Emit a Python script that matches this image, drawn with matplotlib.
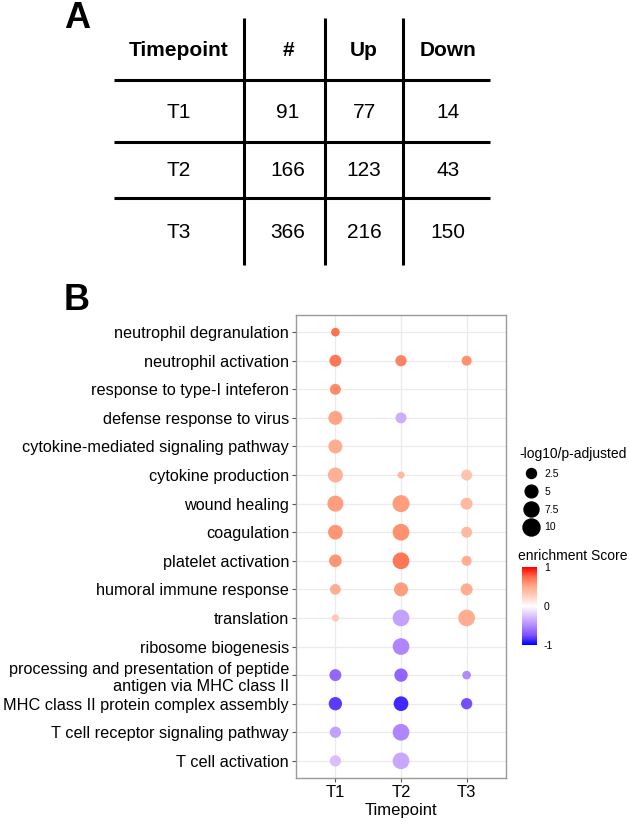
import numpy as np
import matplotlib
matplotlib.use('Agg')
import matplotlib.pyplot as plt
from matplotlib.colors import LinearSegmentedColormap, Normalize
from matplotlib.cm import ScalarMappable
from matplotlib.lines import Line2D

plt.rcParams['font.family'] = ['Liberation Sans', 'DejaVu Sans']

# ---- panel A data
table_header = ['Timepoint', '#', 'Up', 'Down']
table_timepoints = ['T1', 'T2', 'T3']
table_total = [91, 166, 366]
table_up = [77, 123, 216]
table_down = [14, 43, 150]

# ---- panel B data
terms = [
    'neutrophil degranulation',
    'neutrophil activation',
    'response to type-I inteferon',
    'defense response to virus',
    'cytokine-mediated signaling pathway',
    'cytokine production',
    'wound healing',
    'coagulation',
    'platelet activation',
    'humoral immune response',
    'translation',
    'ribosome biogenesis',
    'processing and presentation of peptide\nantigen via MHC class II',
    'MHC class II protein complex assembly',
    'T cell receptor signaling pathway',
    'T cell activation',
]
timepoints = ['T1', 'T2', 'T3']
nan = np.nan
# -log10 p-adjusted
padj_t1 = [1.5, 4.2, 3.3, 6.3, 6.3, 7.5, 8.7, 7.1, 4.9, 3.1, 0.6, nan, 4.2, 5.6, 3.6, 3.6]
padj_t2 = [nan, 3.6, nan, 3.3, nan, 0.5, 10, 9.6, 9.6, 6.3, 9.6, 9.6, 5.6, 7.1, 9.6, 9.6]
padj_t3 = [nan, 2.5, nan, nan, nan, 3.3, 4.2, 3.3, 2.5, 4.2, 9.6, nan, 1.5, 3.6, nan, nan]
# enrichment score
score_t1 = [0.72, 0.7, 0.62, 0.52, 0.48, 0.45, 0.55, 0.58, 0.58, 0.47, 0.3, nan, -0.65, -0.82, -0.4, -0.27]
score_t2 = [nan, 0.65, nan, -0.35, nan, 0.4, 0.55, 0.6, 0.7, 0.55, -0.4, -0.52, -0.66, -0.87, -0.52, -0.37]
score_t3 = [nan, 0.6, nan, nan, nan, 0.33, 0.4, 0.4, 0.47, 0.48, 0.48, nan, -0.5, -0.76, nan, nan]
legend_sizes = [2.5, 5, 7.5, 10]

W, H = 629, 826


def size_pts2(v):
    # area grows linearly with value (diameter in px -> points at dpi 100)
    return 0.72 ** 2 * (37 + 25.2 * np.asarray(v, dtype=float))


# blue - white - red, interpolated roughly in Lab like ggplot
cmap = LinearSegmentedColormap.from_list('bwr_lab', [
    (0.0, '#0000FF'), (0.125, '#7F51FF'), (0.25, '#B38BFF'), (0.375, '#DDC4FF'),
    (0.5, '#FFFFFF'), (0.625, '#FFD0BF'), (0.75, '#FFAA8C'), (0.875, '#FF6B49'),
    (1.0, '#FF0000')])
norm = Normalize(-1, 1)

fig = plt.figure(figsize=(W / 100, H / 100), dpi=100)

# ---- panel A: table drawn in pixel coordinates
tab = fig.add_axes([0, 0, 1, 1])
tab.set_xlim(0, W)
tab.set_ylim(H, 0)
tab.axis('off')

col_x = [179, 288, 364, 448]
row_y = [50, 112, 171, 233]
for x in [244, 325, 403]:
    tab.plot([x, x], [18, 265], color='black', lw=2.2, solid_capstyle='butt')
for y in [80, 142, 198]:
    tab.plot([114, 490], [y, y], color='black', lw=2.2, solid_capstyle='butt')

for cx, h in zip(col_x, table_header):
    tab.text(cx, row_y[0], h, ha='center', va='center', fontsize=15, fontweight='bold')
for i, tp in enumerate(table_timepoints):
    vals = [tp, table_total[i], table_up[i], table_down[i]]
    for cx, v in zip(col_x, vals):
        tab.text(cx, row_y[i + 1], str(v), ha='center', va='center', fontsize=15)

tab.text(77.5, 18, 'A', ha='center', va='center', fontsize=26, fontweight='bold')
tab.text(77, 301, 'B', ha='center', va='center', fontsize=26, fontweight='bold')

# ---- panel B: dot plot
ax = fig.add_axes([296 / W, (H - 778) / H, 210 / W, 463 / H])
ypos = np.arange(len(terms))
for j, (sz, sc) in enumerate(zip([padj_t1, padj_t2, padj_t3], [score_t1, score_t2, score_t3])):
    sz = np.array(sz, dtype=float)
    sc = np.array(sc, dtype=float)
    ok = ~np.isnan(sz)
    ax.scatter(np.full(ok.sum(), j + 1), ypos[ok], s=size_pts2(sz[ok]), c=sc[ok],
               cmap=cmap, norm=norm, edgecolors='none', zorder=3)

ax.set_xlim(0.4, 3.6)
ax.set_ylim(len(terms) - 0.4, -0.6)
ax.set_xticks([1, 2, 3])
ax.set_xticklabels(timepoints, fontsize=12)
ax.set_yticks(ypos)
ax.set_yticklabels(terms, fontsize=11.7, linespacing=1.2)
ax.set_xlabel('Timepoint', fontsize=12, labelpad=2)
ax.grid(True, color='#EBEBEB', lw=0.9, zorder=0)
ax.set_axisbelow(True)
for sp in ax.spines.values():
    sp.set_color('#999999')
    sp.set_linewidth(1.0)
ax.tick_params(length=3, color='#555555', width=0.8, pad=2)

# size legend
handles = [Line2D([], [], marker='o', linestyle='none', color='black',
                  markersize=np.sqrt(size_pts2(v))) for v in legend_sizes]
leg = fig.legend(handles, [str(v) for v in legend_sizes], title='-log10/p-adjusted',
                 loc='upper left', bbox_to_anchor=(515 / W, 1 - 443 / H), frameon=False,
                 fontsize=7.5, title_fontsize=10, labelspacing=0.75, handletextpad=0.2,
                 borderaxespad=0, handlelength=2.2, alignment='left')

# colour bar
cax = fig.add_axes([522 / W, (H - 645) / H, 15 / W, 78 / H])
cb = fig.colorbar(ScalarMappable(norm=norm, cmap=cmap), cax=cax, ticks=[-1, 0, 1])
cb.ax.set_yticklabels(['-1', '0', '1'])
cb.outline.set_visible(False)
cb.ax.tick_params(labelsize=7.5, length=0, pad=5)
fig.text(518 / W, 1 - 556 / H, 'enrichment Score', fontsize=10, va='center', ha='left')

fig.savefig('out.png', dpi=100)
